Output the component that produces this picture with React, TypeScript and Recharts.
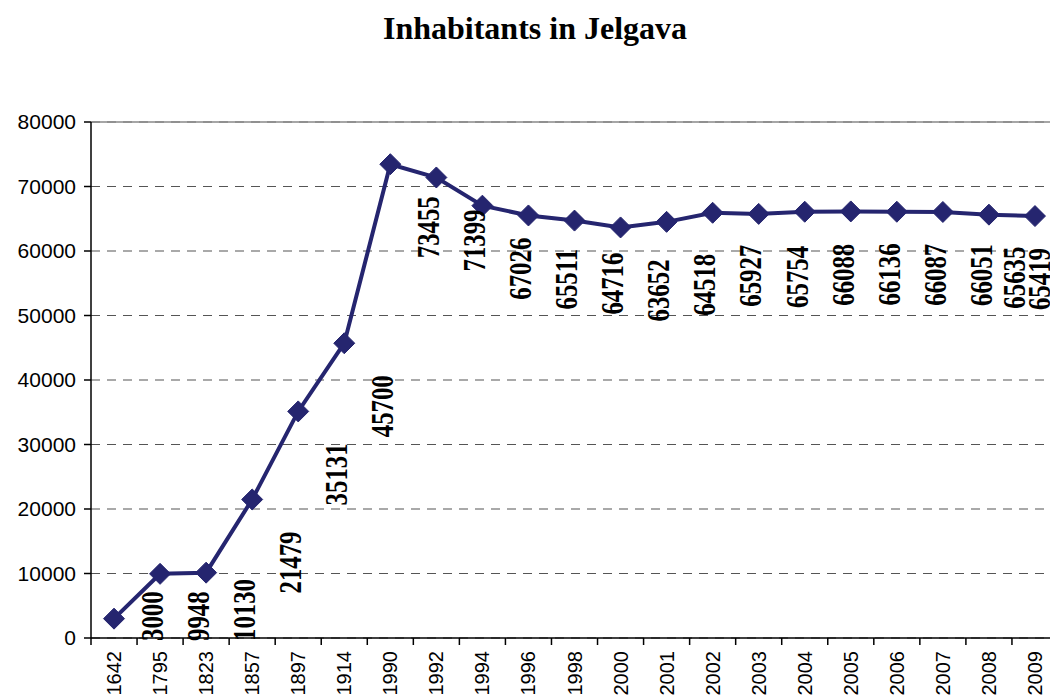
import { CartesianGrid, Line, LineChart, ReferenceLine, XAxis, YAxis } from "recharts";

const YEARS = ["1642", "1795", "1823", "1857", "1897", "1914", "1990", "1992", "1994", "1996", "1998", "2000", "2001", "2002", "2003", "2004", "2005", "2006", "2007", "2008", "2009"];
const INHABITANTS = [3000, 9948, 10130, 21479, 35131, 45700, 73455, 71399, 67026, 65511, 64716, 63652, 64518, 65927, 65754, 66088, 66136, 66087, 66051, 65635, 65419];
const Y_TICKS = [0, 10000, 20000, 30000, 40000, 50000, 60000, 70000, 80000];

const data = YEARS.map((year, i) => ({ year, value: INHABITANTS[i] }));

const NAVY = "#25256f";
const CHART_W = 1070;
const CHART_H = 700;
const PLOT_LEFT = 91;
const PLOT_RIGHT = 1058;
const BAND = (PLOT_RIGHT - PLOT_LEFT) / YEARS.length;

function YearTick({ x, y, payload, index }: any) {
  const last = index === YEARS.length - 1;
  return (
    <g>
      <line x1={x - BAND / 2} x2={x - BAND / 2} y1={y} y2={y + 7} stroke="#000" strokeWidth={1.5} />
      {last ? <line x1={x + BAND / 2} x2={x + BAND / 2} y1={y} y2={y + 7} stroke="#000" strokeWidth={1.5} /> : null}
      <text
        x={x}
        y={y + 13}
        transform={`rotate(-90, ${x}, ${y + 13})`}
        textAnchor="end"
        dy="0.35em"
        fontFamily="'Liberation Sans', Arial, sans-serif"
        fontSize={20}
        fill="#000"
      >
        {payload.value}
      </text>
    </g>
  );
}

function Diamond({ cx, cy }: any) {
  if (cx == null || cy == null) return null;
  const r = 10.5;
  return <polygon points={`${cx},${cy - r} ${cx + r},${cy} ${cx},${cy + r} ${cx - r},${cy}`} fill={NAVY} stroke={NAVY} />;
}

// rotated value labels, set off to the right of each point like the original
function ValueLabel({ x, y, value, index }: any) {
  const n = INHABITANTS.length;
  const lx = Math.min(x + 38, 1039 - (n - 1 - index) * 25);
  const ly = Math.min(y + 94, 641);
  return (
    <text
      x={0}
      y={0}
      transform={`translate(${lx}, ${ly}) rotate(-90) scale(0.8, 1)`}
      textAnchor="start"
      dy="0.35em"
      fontFamily="'Liberation Serif', 'Times New Roman', serif"
      fontWeight="bold"
      fontSize={31}
      fill="#000"
    >
      {value}
    </text>
  );
}

export default function App() {
  return (
    <div style={{ position: "absolute", left: 0, top: 0, width: 1050, height: 700, overflow: "hidden", background: "#fff" }}>
      <div
        style={{
          position: "absolute",
          left: 535,
          top: 10,
          transform: "translateX(-50%)",
          whiteSpace: "nowrap",
          fontFamily: "'Liberation Serif', 'Times New Roman', serif",
          fontWeight: "bold",
          fontSize: 32,
          color: "#000",
        }}
      >
        Inhabitants in Jelgava
      </div>
      <LineChart width={CHART_W} height={CHART_H} data={data} margin={{ top: 122, right: CHART_W - PLOT_RIGHT, bottom: 0, left: 8 }}>
        <CartesianGrid vertical={false} stroke="#555" strokeDasharray="9 7" strokeWidth={1.2} />
        <ReferenceLine y={80000} stroke="#888" strokeWidth={1.5} />
        <XAxis
          dataKey="year"
          scale="band"
          interval={0}
          height={62}
          tickLine={false}
          tickSize={0}
          tickMargin={0}
          axisLine={{ stroke: "#000", strokeWidth: 1.5 }}
          tick={<YearTick />}
        />
        <YAxis
          domain={[0, 80000]}
          ticks={Y_TICKS}
          interval={0}
          width={PLOT_LEFT - 8}
          tickSize={7}
          tickMargin={8}
          axisLine={{ stroke: "#000", strokeWidth: 1.5 }}
          tickLine={{ stroke: "#000", strokeWidth: 1.5 }}
          tick={{ fill: "#000", fontSize: 21, fontFamily: "'Liberation Sans', Arial, sans-serif" }}
        />
        <Line
          type="linear"
          dataKey="value"
          stroke={NAVY}
          strokeWidth={4}
          dot={<Diamond />}
          activeDot={false}
          label={<ValueLabel />}
          isAnimationActive={false}
        />
      </LineChart>
    </div>
  );
}
